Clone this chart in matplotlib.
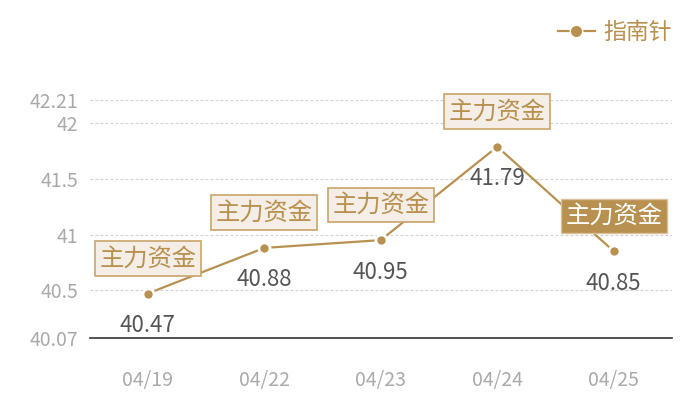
import matplotlib
matplotlib.use("Agg")
import matplotlib.pyplot as plt
from matplotlib.lines import Line2D

plt.rcParams['font.family'] = ['Noto Sans CJK SC', 'DejaVu Sans']

dates = ['04/19', '04/22', '04/23', '04/24', '04/25']
values = [40.47, 40.88, 40.95, 41.79, 40.85]
yticks = [40.07, 40.5, 41, 41.5, 42, 42.21]
tag = '主力资金'
series_name = '指南针'
highlight = 4

gold = '#b8904f'
tick_gray = '#aaaaaa'
grid_gray = '#d0d0d0'

fig = plt.figure(figsize=(7, 4), dpi=100)
ax = fig.add_axes([89.5 / 700, 62 / 400, (672 - 89.5) / 700, 238 / 400])

xs = list(range(len(dates)))
ax.plot(xs, values, color=gold, linewidth=1.6, marker='o', markersize=8,
        markerfacecolor=gold, markeredgecolor='white', markeredgewidth=2, zorder=3)

ax.set_xlim(-0.5, len(dates) - 0.5)
ax.set_ylim(yticks[0], yticks[-1])
ax.set_yticks(yticks)
ax.set_yticklabels([f'{t:g}' for t in yticks])
ax.set_xticks(xs)
ax.set_xticklabels(dates)

for t in yticks[1:]:
    ax.axhline(t, color=grid_gray, linestyle=(0, (2.5, 2)), linewidth=0.8, zorder=0)

for s in ['top', 'right', 'left']:
    ax.spines[s].set_visible(False)
ax.spines['bottom'].set_color('#333333')
ax.spines['bottom'].set_linewidth(1.2)

ax.tick_params(axis='y', length=0, labelsize=14, labelcolor=tick_gray, pad=8)
ax.tick_params(axis='x', length=0, labelsize=14, labelcolor=tick_gray, pad=23)

for i, (x, v) in enumerate(zip(xs, values)):
    ax.annotate(f'{v:.2f}', (x, v), xytext=(0, -23), textcoords='offset points',
                ha='center', va='center', fontsize=16, color='#555555', zorder=4)
    if i == highlight:
        box = dict(boxstyle='square,pad=0.18', facecolor=gold, edgecolor='#d9c29b', linewidth=1)
        tc = 'white'
    else:
        box = dict(boxstyle='square,pad=0.18', facecolor='#f4eee6', edgecolor='#c9a46a', linewidth=1.2)
        tc = gold
    ax.annotate(tag, (x, v), xytext=(0, 16), textcoords='offset points',
                ha='center', va='bottom', fontsize=17.5, color=tc, bbox=box, zorder=5)

handle = Line2D([0], [0], color=gold, linewidth=1.6, marker='o', markersize=9,
                markerfacecolor=gold, markeredgecolor='white', markeredgewidth=1)
fig.legend(handles=[handle], labels=[series_name], loc='upper right',
           bbox_to_anchor=(0.99, 1.0), frameon=False, fontsize=16.5,
           labelcolor=gold, handlelength=1.6, handletextpad=0.4)

fig.savefig('out.png', dpi=100, facecolor='white')
